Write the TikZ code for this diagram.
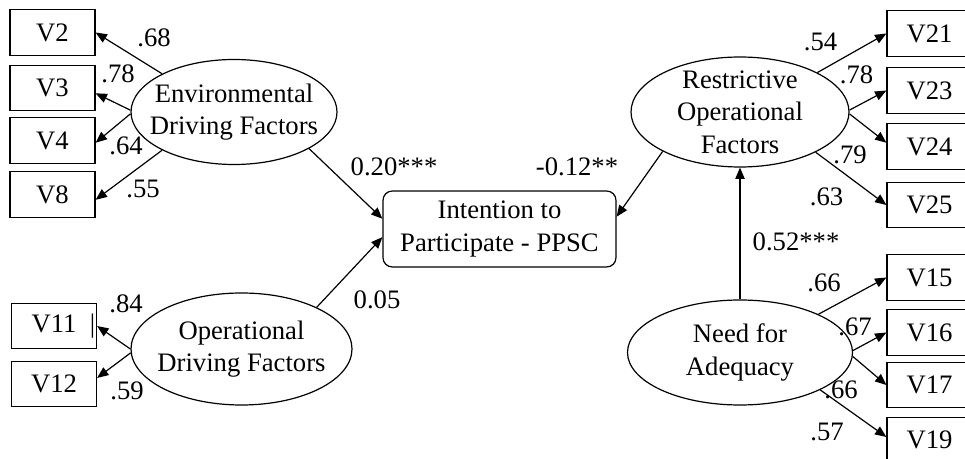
\documentclass[tikz,border=0pt]{standalone}
\usepackage{fontspec}
\setmainfont{Liberation Serif}
\usetikzlibrary{arrows.meta,shapes.geometric,positioning}

\begin{document}
\begin{tikzpicture}[x=0.75pt,y=-0.75pt,
    every node/.style={font=\fontsize{20}{24.5}\selectfont},
    latent/.style={draw,ellipse,inner sep=0pt,line width=0.9pt},
    obs/.style={draw,rectangle,minimum width=63.75pt,minimum height=34pt,inner sep=0pt,line width=0.9pt},
    link/.style={-{Triangle[length=8.5pt,width=7pt]},line width=0.9pt},
    coef/.style={inner sep=0pt}]
    \useasboundingbox (0,0) rectangle (965,459);
    \clip (0,0) rectangle (965,459);

    % 潜变量
    \node[latent,minimum width=154.5pt,minimum height=78.75pt,
          label={[align=center]center:Environmental\\Driving Factors}] (env) at (234,112) {};
    \node[latent,minimum width=165.75pt,minimum height=84pt,
          label={[align=center]center:Operational\\Driving Factors}] (oper) at (241.5,349) {};
    \node[latent,minimum width=163.5pt,minimum height=82.5pt,
          label={[align=center]center:Restrictive\\Operational\\Factors}] (restr) at (740,112) {};
    \node[latent,minimum width=168.75pt,minimum height=78.75pt,
          label={[align=center]center:Need for\\Adequacy}] (need) at (740,352.5) {};

    % 结果变量
    \node[draw,rounded corners=7pt,minimum width=174.75pt,minimum height=57pt,
          align=center,line width=0.9pt] (ppsc) at (499.5,229) {Intention to\\Participate - PPSC};

    % 观测变量（左）
    \node[obs] (v2) at (52.5,32.5) {V2};
    \node[obs] (v3) at (52.5,88) {V3};
    \node[obs] (v4) at (52.5,140.5) {V4};
    \node[obs] (v8) at (52.5,194.5) {V8};
    \node[obs] (v11) at (54,326) {V11\rlap{\ \ |}};
    \node[obs] (v12) at (54,384) {V12};

    % 观测变量（右）
    \node[obs] (v21) at (929.5,33.5) {V21};
    \node[obs] (v23) at (929.5,90.5) {V23};
    \node[obs] (v24) at (929.5,146.5) {V24};
    \node[obs] (v25) at (929.5,205) {V25};
    \node[obs] (v15) at (929.5,277.5) {V15};
    \node[obs] (v16) at (929.5,332.5) {V16};
    \node[obs] (v17) at (929.5,385) {V17};
    \node[obs] (v19) at (929.5,440) {V19};

    % 载荷
    \draw[link] (env.152) -- (v2.east);
    \draw[link] (env.179) -- (v3.-7);
    \draw[link] (env.181) -- (v4.-3);
    \draw[link] (env.208) -- (v8.-7);
    \draw[link] (oper.180) -- (v11.east);
    \draw[link] (oper.182) -- (v12.8);
    \draw[link] (restr.27) -- (v21.west);
    \draw[link] (restr.1) -- (v23.west);
    \draw[link] (restr.-1) -- (v24.175);
    \draw[link] (restr.-28) -- (v25.west);
    \draw[link] (need.26) -- (v15.west);
    \draw[link] (need.1) -- (v16.west);
    \draw[link] (need.-2) -- (v17.west);
    \draw[link] (need.-25) -- (v19.176);

    % 结构路径
    \draw[link] (env.-26) -- (ppsc.175);
    \draw[link] (oper.29) -- (ppsc.184);
    \draw[link] (restr.207) -- (ppsc.6);
    \draw[link] (need.north) -- (restr.south);

    % 系数
    \node[coef] (c-v2) at (154,37.5) {.68};
    \node[coef] (c-v3) at (118,74) {.78};
    \node[coef] (c-v4) at (126,146) {.64};
    \node[coef] (c-v8) at (143,189) {.55};
    \node[coef] (c-v11) at (126,304) {.84};
    \node[coef] (c-v12) at (127,391) {.59};
    \node[coef] (c-v21) at (820.5,42) {.54};
    \node[coef] (c-v23) at (856.5,75) {.78};
    \node[coef] (c-v24) at (850,155) {.79};
    \node[coef] (c-v25) at (826.5,196.5) {.63};
    \node[coef] (c-v15) at (824,283) {.66};
    \node[coef] (c-v16) at (855,327) {.67};
    \node[coef] (c-v17) at (841,390) {.66};
    \node[coef] (c-v19) at (827,432) {.57};
    \node[coef] (c-env) at (394,167) {0.20***};
    \node[coef] (c-restr) at (577,167) {-0.12**};
    \node[coef] (c-oper) at (377,300) {0.05};
    \node[coef] (c-need) at (796,242) {0.52***};
\end{tikzpicture}
\end{document}
